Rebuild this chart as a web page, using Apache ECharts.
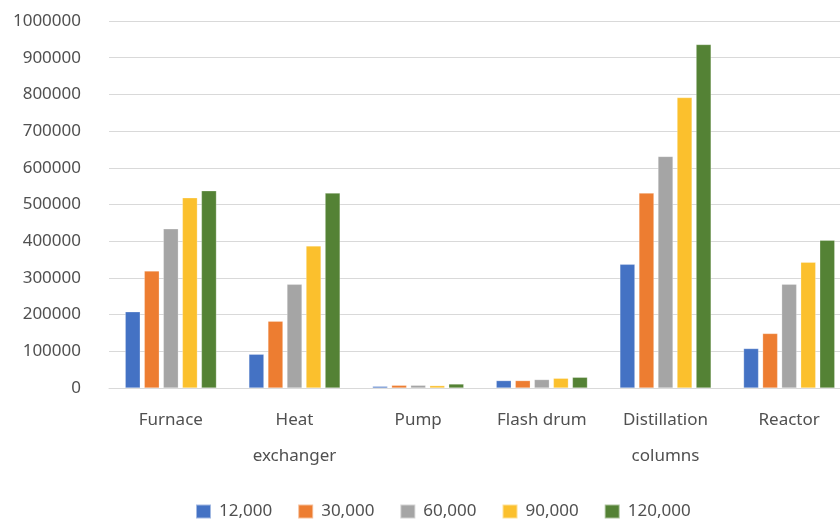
<!DOCTYPE html>
<html>
<head>
<meta charset="utf-8">
<script src="https://cdn.jsdelivr.net/npm/echarts@6/dist/echarts.min.js"></script>
<style>html,body{margin:0;padding:0;background:#fff;overflow:hidden}#c{width:860px;height:525px}</style>
</head>
<body>
<div id="c"></div>
<script>
const categories = ["Furnace", "Heat exchanger", "Pump", "Flash drum", "Distillation columns", "Reactor"];
const seriesNames = ["12,000", "30,000", "60,000", "90,000", "120,000"];
const s12000  = [207700,  92000,  4600, 20200, 337000, 107600];
const s30000  = [318900, 182200,  7400, 20200, 531000, 148600];
const s60000  = [433600, 282500,  7400, 23000, 631000, 283000];
const s90000  = [518300, 387200,  6500, 26500, 791500, 342600];
const s120000 = [537400, 531100, 10900, 29200, 936000, 402700];
const yTicks = [0, 100000, 200000, 300000, 400000, 500000, 600000, 700000, 800000, 900000, 1000000];

const colors = ["#4472C4", "#ED7D31", "#A5A5A5", "#FBC02D", "#548235"];
const allData = [s12000, s30000, s60000, s90000, s120000];
const FONT = "Noto Sans";
const TXT = "#505050";

const chart = echarts.init(document.getElementById('c'));
chart.setOption({
  animation: false,
  color: colors,
  grid: { left: 109, top: 21, width: 742, bottom: 137, containLabel: false },
  legend: {
    left: 195, top: 503, padding: 0,
    itemWidth: 15, itemHeight: 14, itemGap: 25,
    textStyle: { fontFamily: FONT, fontSize: 17, color: TXT, padding: [0, 0, 0, 3] },
    icon: "rect",
    data: seriesNames
  },
  xAxis: {
    type: "category",
    data: categories,
    axisTick: { show: false },
    axisLine: { lineStyle: { color: "#D9D9D9", width: 1 } },
    axisLabel: {
      interval: 0,
      margin: 14,
      fontFamily: FONT, fontSize: 17, color: TXT,
      lineHeight: 36,
      formatter: function (v) { return v.length > 10 ? v.replace(" ", "\n") : v; }
    }
  },
  yAxis: {
    type: "value",
    min: yTicks[0], max: yTicks[yTicks.length - 1], interval: 100000,
    axisLine: { show: false },
    axisTick: { show: false },
    splitLine: { lineStyle: { color: "#D9D9D9", width: 1 } },
    axisLabel: { margin: 28, fontFamily: FONT, fontSize: 17, color: TXT,
      formatter: function (v) { return String(v); } }
  },
  series: seriesNames.map(function (n, i) {
    return {
      name: n, type: "bar", data: allData[i],
      barWidth: 15, barGap: "27%",
      itemStyle: { color: colors[i], borderColor: "rgba(255,255,255,0.5)", borderWidth: 0.5 }
    };
  })
});
</script>
</body>
</html>
